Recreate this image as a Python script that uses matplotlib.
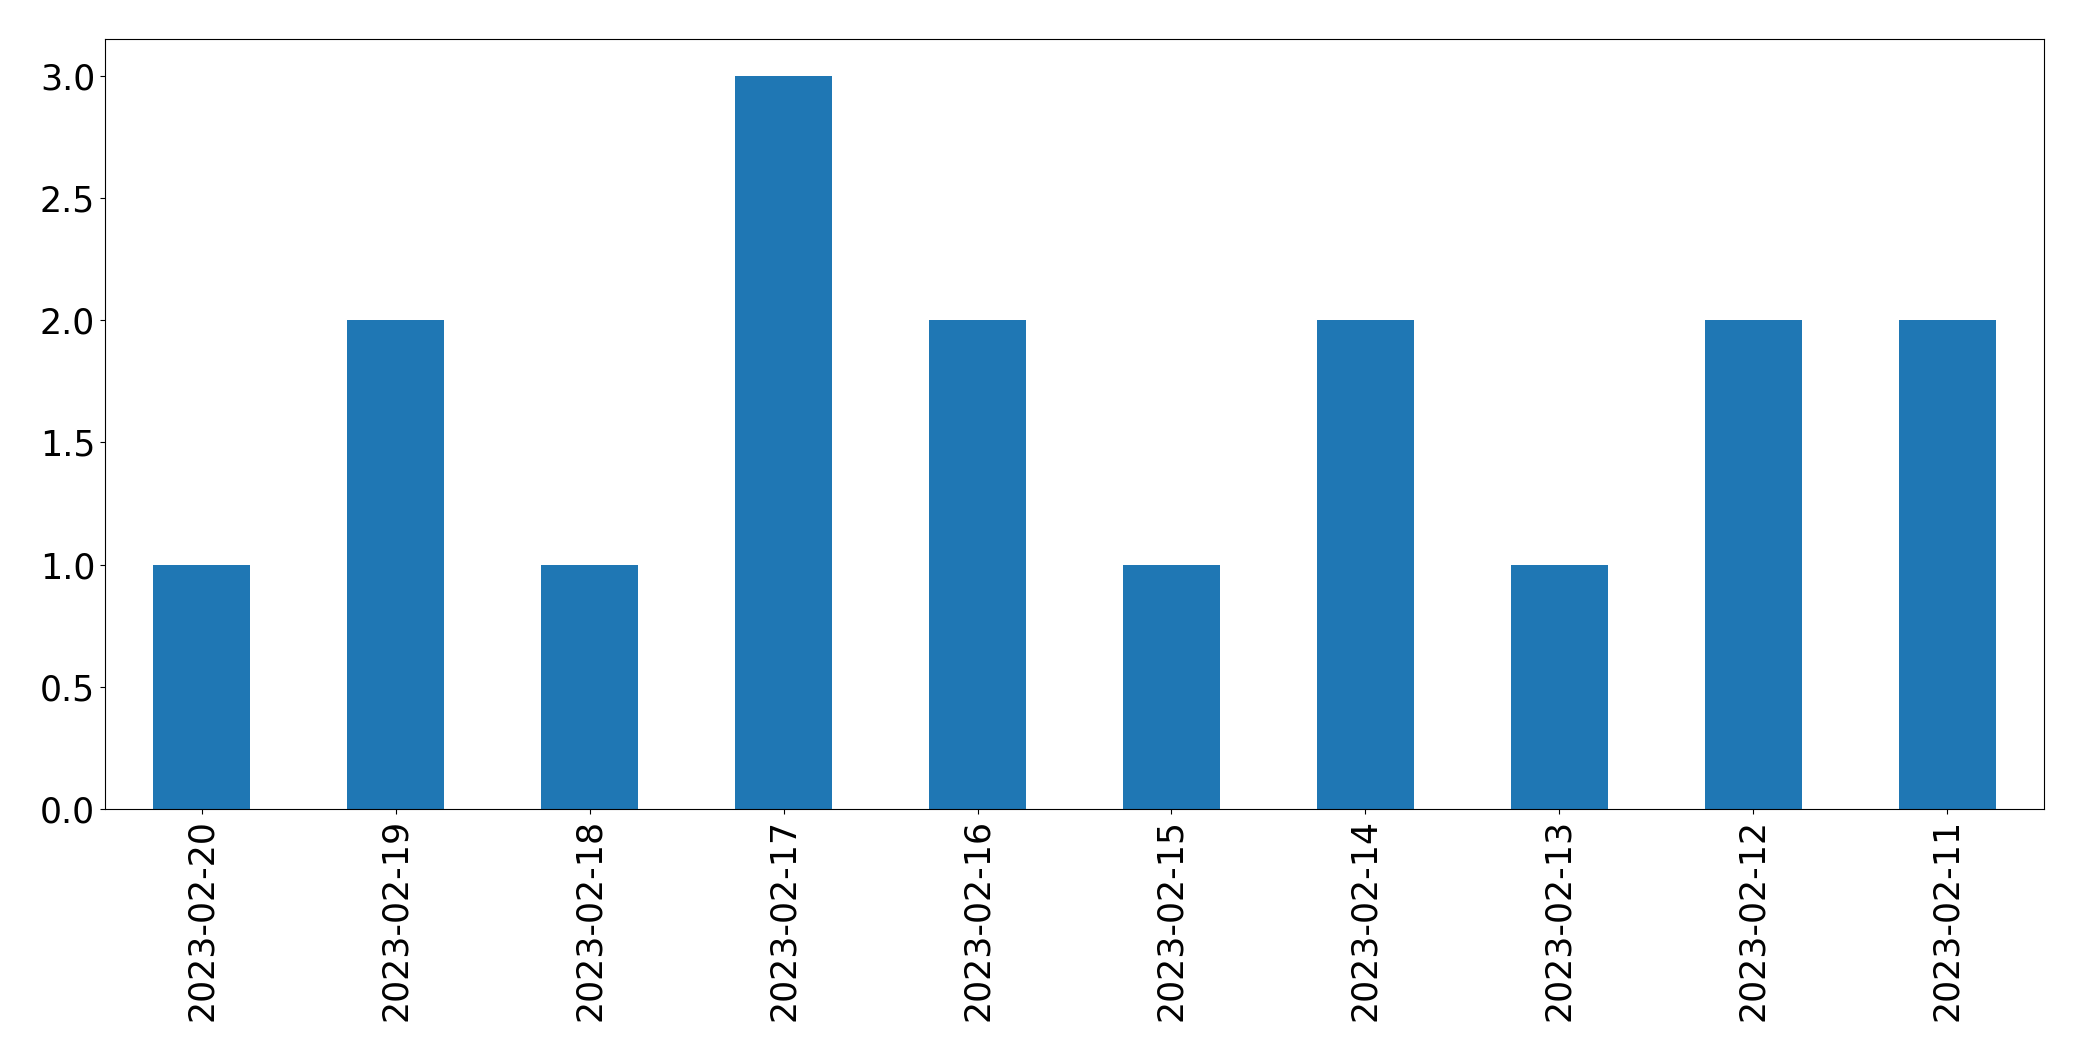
import matplotlib
matplotlib.use('Agg')
import matplotlib.pyplot as plt
import pandas as pd

dates = ['2023-02-20', '2023-02-19', '2023-02-18', '2023-02-17', '2023-02-16',
         '2023-02-15', '2023-02-14', '2023-02-13', '2023-02-12', '2023-02-11']
counts = [1, 2, 1, 3, 2, 1, 2, 1, 2, 2]

series = pd.Series(counts, index=dates)

fig, ax = plt.subplots(figsize=(20.82, 10.61), dpi=100)
series.plot(kind='bar', ax=ax, color='#1f77b4', fontsize=25)
fig.subplots_adjust(left=0.0504, right=0.9818, top=0.9632, bottom=0.2375)

fig.savefig('out.png', dpi=100)
